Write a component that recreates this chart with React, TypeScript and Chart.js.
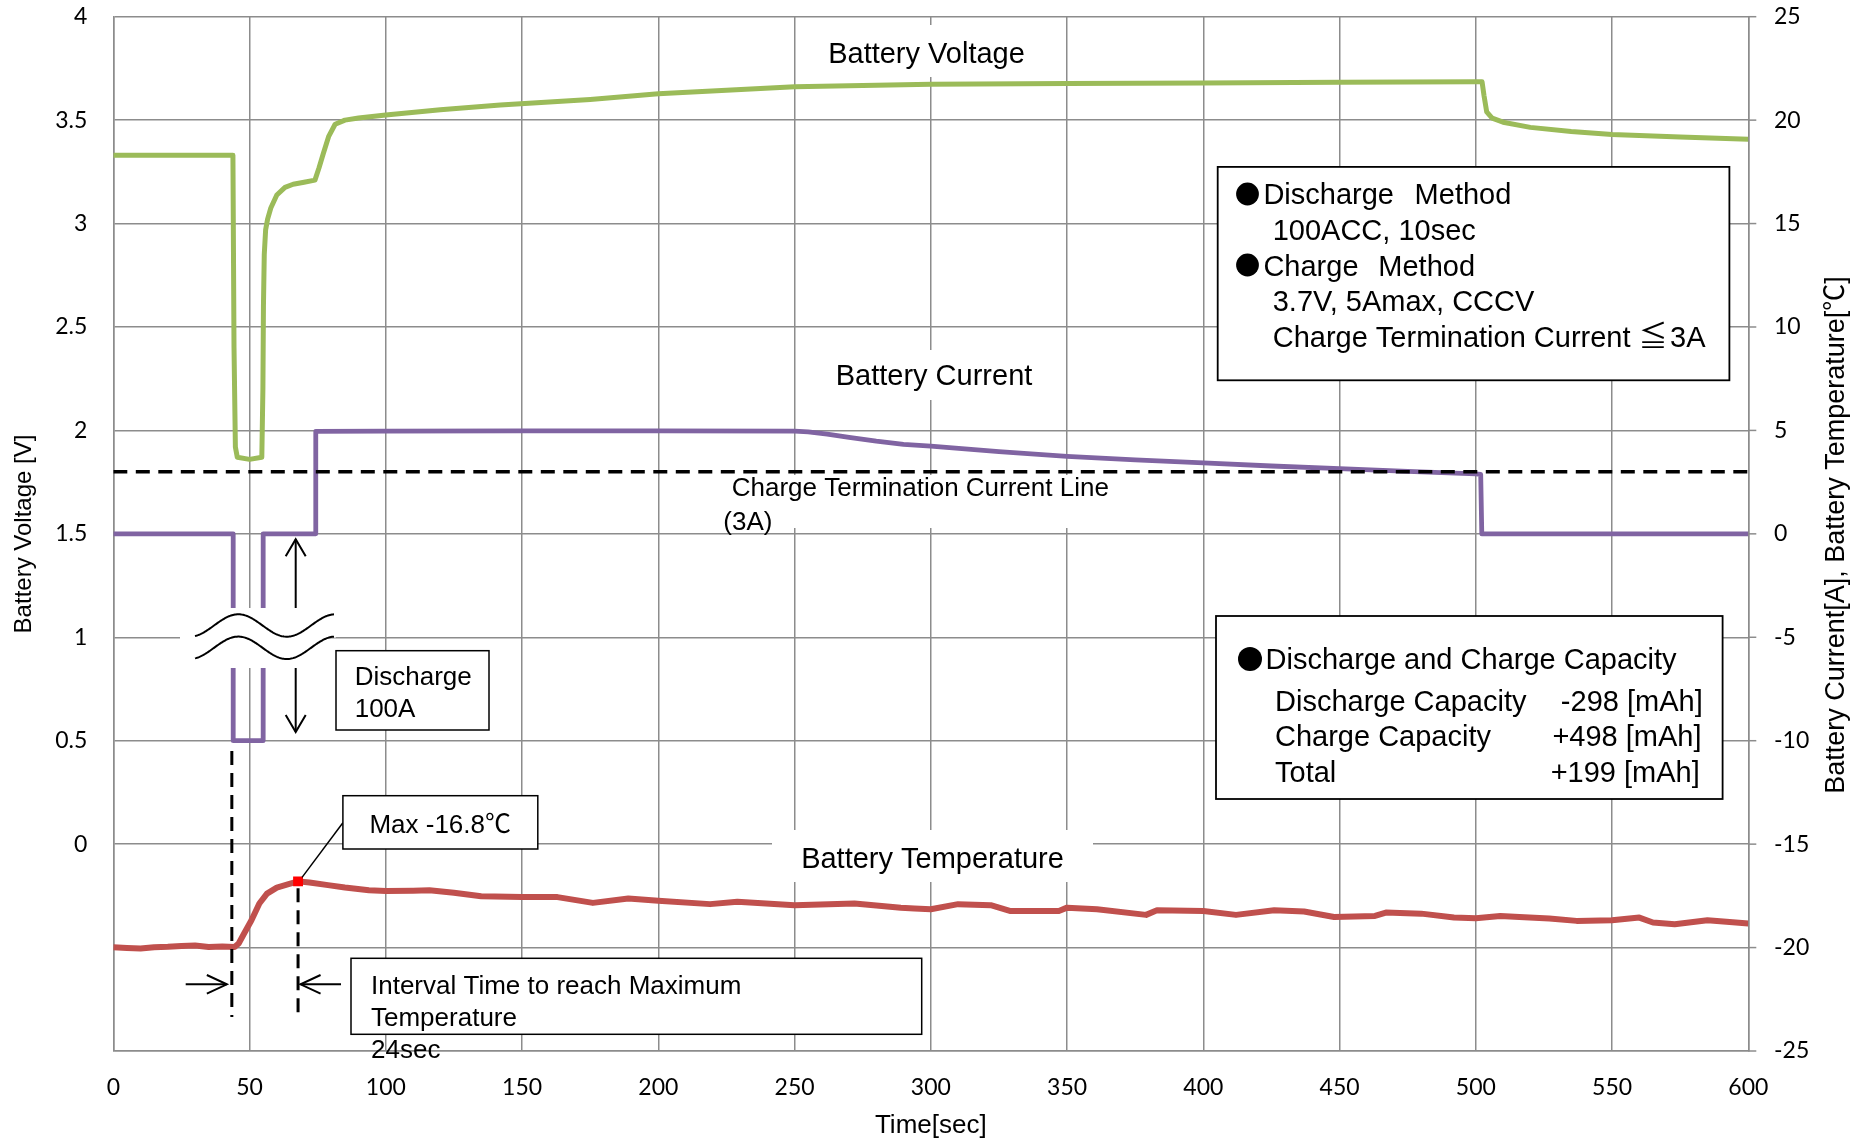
import React, { useEffect, useRef } from "react";
import { Chart, registerables } from "chart.js";

Chart.register(...registerables);

const FONT = '"Liberation Sans", Arial, "Noto Sans CJK JP", sans-serif';
const TICK_FONT = "Lato";
const GRID = "#8c8c8c";

// ---- Data (time in sec) ----
const voltageTime = [0, 20, 43.9, 44.3, 44.8, 45.5, 50, 54.5, 54.9, 55.1, 55.4, 55.9, 56.6, 57.8, 60, 63, 66, 70, 74, 75.5, 77.1, 79, 81.4, 85, 90, 100, 120, 142, 175, 200, 225, 250, 275, 300, 350, 400, 450, 500, 502.3, 503, 504, 506, 510, 520, 535, 550, 575, 600];
const voltageValues = [3.33, 3.33, 3.33, 2.4, 1.92, 1.87, 1.86, 1.87, 2.2, 2.6, 2.85, 2.97, 3.02, 3.075, 3.138, 3.175, 3.19, 3.2, 3.21, 3.27, 3.34, 3.42, 3.48, 3.5, 3.51, 3.525, 3.55, 3.573, 3.6, 3.627, 3.645, 3.661, 3.668, 3.673, 3.677, 3.68, 3.683, 3.685, 3.685, 3.62, 3.54, 3.51, 3.49, 3.465, 3.445, 3.43, 3.418, 3.407];

const currentTime = [0, 44, 44, 55, 55, 74.3, 74.3, 100, 150, 200, 250, 255, 262, 270, 280, 290, 300, 325, 350, 375, 400, 425, 450, 475, 500, 501.8, 502.2, 600];
const currentValues = [0, 0, -10, -10, 0, 0, 4.95, 4.97, 4.98, 4.98, 4.97, 4.93, 4.82, 4.66, 4.48, 4.33, 4.24, 3.98, 3.75, 3.58, 3.43, 3.28, 3.15, 3.02, 2.9, 2.87, 0, 0];

const tempTime = [0, 5, 10, 15, 20, 25, 30, 35, 40, 44.5, 46, 48, 50.7, 53.6, 56.4, 60, 64, 67.8, 72, 78.8, 85, 93.8, 100, 110, 116, 125, 135, 150, 163, 176, 189, 200, 219, 229, 250, 272, 289, 294, 300, 310, 322, 329, 347, 350, 361, 379, 383, 400, 412, 426, 437, 448, 463, 467, 480, 492, 500, 509, 516, 527, 537, 550, 560, 565, 573, 585, 592, 600];
const tempValues = [-19.98, -20.02, -20.05, -19.98, -19.96, -19.92, -19.9, -19.97, -19.95, -19.97, -19.8, -19.32, -18.68, -17.87, -17.39, -17.1, -16.95, -16.8, -16.85, -16.98, -17.1, -17.23, -17.26, -17.25, -17.23, -17.35, -17.52, -17.55, -17.56, -17.84, -17.63, -17.74, -17.9, -17.79, -17.95, -17.87, -18.07, -18.11, -18.15, -17.9, -17.95, -18.23, -18.23, -18.07, -18.15, -18.42, -18.2, -18.23, -18.42, -18.2, -18.26, -18.52, -18.47, -18.31, -18.36, -18.55, -18.58, -18.47, -18.52, -18.6, -18.71, -18.68, -18.55, -18.79, -18.87, -18.68, -18.75, -18.84];

const terminationCurrent = 3;
const dischargeStartTime = 43.5;
const maxTempTime = 67.8;
const maxTempValue = -16.8;

const methodLines = ["100ACC, 10sec", "3.7V, 5Amax, CCCV", "Charge Termination Current \u2266\u200A3A"];
const capacityLabels = ["Discharge Capacity", "Charge Capacity", "Total"];
const capacityValues = ["-298 [mAh]", "+498 [mAh]", "+199 [mAh]"];

const toPoints = (xs: number[], ys: number[]) => xs.map((x, i) => ({ x, y: ys[i] }));

function arrow(ctx: CanvasRenderingContext2D, x1: number, y1: number, x2: number, y2: number, len = 18, half = 10) {
  ctx.beginPath();
  ctx.moveTo(x1, y1);
  ctx.lineTo(x2, y2);
  ctx.stroke();
  const a = Math.atan2(y2 - y1, x2 - x1);
  const px = -Math.sin(a), py = Math.cos(a);
  const bx = x2 - Math.cos(a) * len, by = y2 - Math.sin(a) * len;
  ctx.beginPath();
  ctx.moveTo(bx + px * half, by + py * half);
  ctx.lineTo(x2, y2);
  ctx.lineTo(bx - px * half, by - py * half);
  ctx.stroke();
}

function box(ctx: CanvasRenderingContext2D, x: number, y: number, w: number, h: number, lw = 1.5) {
  ctx.fillStyle = "#fff";
  ctx.fillRect(x, y, w, h);
  ctx.strokeStyle = "#000";
  ctx.lineWidth = lw;
  ctx.strokeRect(x, y, w, h);
}

const annotations = {
  id: "annotations",
  beforeDatasetsDraw(chart: any) {
    const ctx: CanvasRenderingContext2D = chart.ctx;
    ctx.save();
    // outward tick marks on the right axis
    const y2 = chart.scales.y2;
    const right = chart.chartArea.right;
    ctx.strokeStyle = GRID;
    ctx.lineWidth = 1.5;
    y2.ticks.forEach((t: any) => {
      const py = y2.getPixelForValue(t.value);
      ctx.beginPath();
      ctx.moveTo(right, py);
      ctx.lineTo(right + 8, py);
      ctx.stroke();
    });
    // label backgrounds
    ctx.fillStyle = "#fff";
    ctx.fillRect(816, 25, 220, 52);
    ctx.fillRect(825, 350, 220, 50);
    ctx.fillRect(772, 830, 321, 52);
    ctx.fillRect(715, 475, 410, 53);
    ctx.restore();
  },
  afterDatasetsDraw(chart: any) {
    const ctx: CanvasRenderingContext2D = chart.ctx;
    const xs = chart.scales.x;
    const y2 = chart.scales.y2;
    ctx.save();
    ctx.fillStyle = "#000";
    ctx.textBaseline = "alphabetic";

    // series labels
    ctx.font = `29px ${FONT}`;
    ctx.textAlign = "center";
    ctx.fillText("Battery Voltage", 926.5, 62.7);
    ctx.fillText("Battery Current", 934, 385);
    ctx.fillText("Battery Temperature", 932.5, 868);
    ctx.textAlign = "left";
    ctx.font = `26px ${FONT}`;
    ctx.fillText("Charge Termination Current Line", 731.7, 496);
    ctx.fillText("(3A)", 723.3, 530);

    // break symbol
    const waveY = (x: number) => 625.5 - 11.2 * Math.cos((2 * Math.PI * (x - 238.3)) / 97);
    ctx.fillStyle = "#fff";
    ctx.beginPath();
    for (let x = 180; x <= 336; x += 1) ctx.lineTo(x, waveY(x) - 1);
    for (let x = 336; x >= 180; x -= 1) ctx.lineTo(x, waveY(x) + 23.3);
    ctx.closePath();
    ctx.fill();
    ctx.fillRect(222, 608, 52, 60);
    ctx.strokeStyle = "#000";
    ctx.lineWidth = 2;
    for (const off of [0, 22.3]) {
      ctx.beginPath();
      for (let x = 195; x <= 334; x += 1) ctx.lineTo(x, waveY(x) + off);
      ctx.stroke();
    }

    // discharge arrows
    ctx.lineWidth = 2;
    arrow(ctx, 295.7, 608, 295.7, 539.3, 17, 10);
    arrow(ctx, 295.7, 668, 295.7, 732, 17, 10);

    // dashed vertical markers
    const xd = xs.getPixelForValue(dischargeStartTime);
    const xm = xs.getPixelForValue(maxTempTime);
    const ym = y2.getPixelForValue(maxTempValue);
    ctx.setLineDash([14, 8]);
    ctx.lineWidth = 3;
    ctx.beginPath();
    ctx.moveTo(xd, 751);
    ctx.lineTo(xd, 1017);
    ctx.moveTo(xm, ym + 7);
    ctx.lineTo(xm, 1017);
    ctx.stroke();
    ctx.setLineDash([]);

    // interval arrows
    ctx.lineWidth = 2;
    arrow(ctx, 185.7, 984.3, xd - 5, 984.3, 20, 9.3);
    arrow(ctx, 341, 984.3, xm + 2.5, 984.3, 20, 9.3);

    // leader line to max marker
    ctx.lineWidth = 1.5;
    ctx.beginPath();
    ctx.moveTo(342.9, 822.7);
    ctx.lineTo(xm + 4, ym - 4);
    ctx.stroke();

    // small boxes
    ctx.font = `26px ${FONT}`;
    ctx.textAlign = "left";
    box(ctx, 336, 650.7, 153, 79.3);
    ctx.fillStyle = "#000";
    ctx.fillText("Discharge", 354.7, 685);
    ctx.fillText("100A", 354.7, 716.7);

    box(ctx, 342.9, 795.7, 194.9, 53.3);
    ctx.fillStyle = "#000";
    ctx.fillText("Max -16.8\u2103", 369.4, 832.7);

    box(ctx, 351, 958.3, 570.7, 76);
    ctx.fillStyle = "#000";
    ctx.fillText("Interval Time to reach Maximum", 371, 994.3);
    ctx.fillText("Temperature", 371, 1026.3);
    ctx.fillText("24sec", 371, 1058.3);

    // info box 1
    box(ctx, 1217.7, 166.9, 511.7, 213.4, 1.8);
    ctx.fillStyle = "#000";
    ctx.font = `29px ${FONT}`;
    ctx.beginPath(); ctx.arc(1247.5, 194, 11.4, 0, Math.PI * 2); ctx.fill();
    ctx.beginPath(); ctx.arc(1247.5, 265, 11.4, 0, Math.PI * 2); ctx.fill();
    ctx.fillText("Discharge", 1263.4, 204);
    ctx.fillText("Method", 1414.6, 204);
    ctx.fillText(methodLines[0], 1272.7, 239.8);
    ctx.fillText("Charge", 1263.4, 275.6);
    ctx.fillText("Method", 1378.3, 275.6);
    ctx.fillText(methodLines[1], 1272.7, 311.4);
    ctx.fillText(methodLines[2], 1272.7, 347.2);

    // info box 2
    box(ctx, 1216, 616, 506.6, 183, 1.8);
    ctx.fillStyle = "#000";
    ctx.beginPath(); ctx.arc(1250, 659, 12, 0, Math.PI * 2); ctx.fill();
    ctx.fillText("Discharge and Charge Capacity", 1265.5, 668.8);
    const rowY = [710.6, 746.3, 781.6];
    const rightX = [1702.7, 1701.5, 1699.8];
    capacityLabels.forEach((l, i) => {
      ctx.textAlign = "left";
      ctx.fillText(l, 1275, rowY[i]);
      ctx.textAlign = "right";
      ctx.fillText(capacityValues[i], rightX[i], rowY[i]);
    });

    // axis titles
    ctx.textAlign = "center";
    ctx.textBaseline = "middle";
    ctx.font = `26px ${FONT}`;
    ctx.fillText("Time[sec]", (chart.chartArea.left + chart.chartArea.right) / 2, 1126);
    ctx.save();
    ctx.translate(24, 534);
    ctx.rotate(-Math.PI / 2);
    ctx.font = `24px ${FONT}`;
    ctx.fillText("Battery Voltage [V]", 0, 0);
    ctx.restore();
    ctx.save();
    ctx.translate(1837, 535);
    ctx.rotate(-Math.PI / 2);
    ctx.font = `27px ${FONT}`;
    ctx.fillText("Battery Current[A], Battery Temperature[\u2103]", 0, 0);
    ctx.restore();

    ctx.restore();
  },
};

export default function App() {
  const ref = useRef<HTMLCanvasElement | null>(null);
  useEffect(() => {
    document.body.style.margin = "0";
    if (!ref.current) return;
    const chart = new Chart(ref.current, {
      type: "line",
      data: {
        datasets: [
          {
            label: "Max",
            data: [{ x: maxTempTime, y: maxTempValue }],
            yAxisID: "y2",
            showLine: false,
            pointStyle: "rect",
            pointRadius: 7,
            pointBackgroundColor: "#ff0000",
            pointBorderColor: "#ff0000",
            pointBorderWidth: 0,
          },
          {
            label: "Termination",
            data: [{ x: 0, y: terminationCurrent }, { x: 600, y: terminationCurrent }],
            yAxisID: "y2",
            borderColor: "#000",
            borderWidth: 3.5,
            borderDash: [14, 8.5],
            pointRadius: 0,
          },
          {
            label: "Battery Current",
            data: toPoints(currentTime, currentValues),
            yAxisID: "y2",
            borderColor: "#8064a2",
            borderWidth: 4.8,
            pointRadius: 0,
            borderJoinStyle: "round",
          },
          {
            label: "Battery Temperature",
            data: toPoints(tempTime, tempValues),
            yAxisID: "y2",
            borderColor: "#c0504d",
            borderWidth: 6,
            pointRadius: 0,
            borderJoinStyle: "round",
          },
          {
            label: "Battery Voltage",
            data: toPoints(voltageTime, voltageValues),
            yAxisID: "y",
            borderColor: "#9bbb59",
            borderWidth: 5,
            pointRadius: 0,
            borderJoinStyle: "round",
          },
        ],
      },
      options: {
        responsive: false,
        devicePixelRatio: 1,
        animation: false,
        parsing: false as any,
        layout: { padding: { top: 16.7, left: 0, right: 0, bottom: 0 } },
        plugins: { legend: { display: false }, tooltip: { enabled: false } },
        elements: { line: { tension: 0 } },
        scales: {
          x: {
            type: "linear",
            min: 0,
            max: 600,
            ticks: { stepSize: 50, padding: 23, color: "#000", font: { family: TICK_FONT, size: 23 } },
            grid: { color: GRID, lineWidth: 1.5, drawTicks: false },
            border: { color: GRID, width: 1.5 },
            afterFit: (s: any) => { s.height = 90; },
          },
          y: {
            type: "linear",
            position: "left",
            min: -1,
            max: 4,
            ticks: {
              stepSize: 0.5,
              padding: 0,
              color: "#000",
              font: { family: TICK_FONT, size: 23 },
              callback: (v: any) => (Number(v) < 0 ? "" : String(Number(v))),
            },
            grid: { color: GRID, lineWidth: 1.5, drawTicks: true, tickLength: 26, tickColor: "rgba(0,0,0,0)" },
            border: { color: GRID, width: 1.5 },
            afterFit: (s: any) => { s.width = 113.3; },
          },
          y2: {
            type: "linear",
            position: "right",
            min: -25,
            max: 25,
            ticks: { stepSize: 5, padding: 0, color: "#000", font: { family: TICK_FONT, size: 23 } },
            grid: { color: GRID, lineWidth: 1.5, drawOnChartArea: false, drawTicks: true, tickLength: 25.7, tickColor: "rgba(0,0,0,0)" },
            border: { color: GRID, width: 1.5 },
            afterFit: (s: any) => { s.width = 115.7; },
          },
        },
      },
      plugins: [annotations as any],
    });
    return () => chart.destroy();
  }, []);
  return (
    <canvas ref={ref} width={1864} height={1141} style={{ display: "block", width: 1864, height: 1141 }} />
  );
}
